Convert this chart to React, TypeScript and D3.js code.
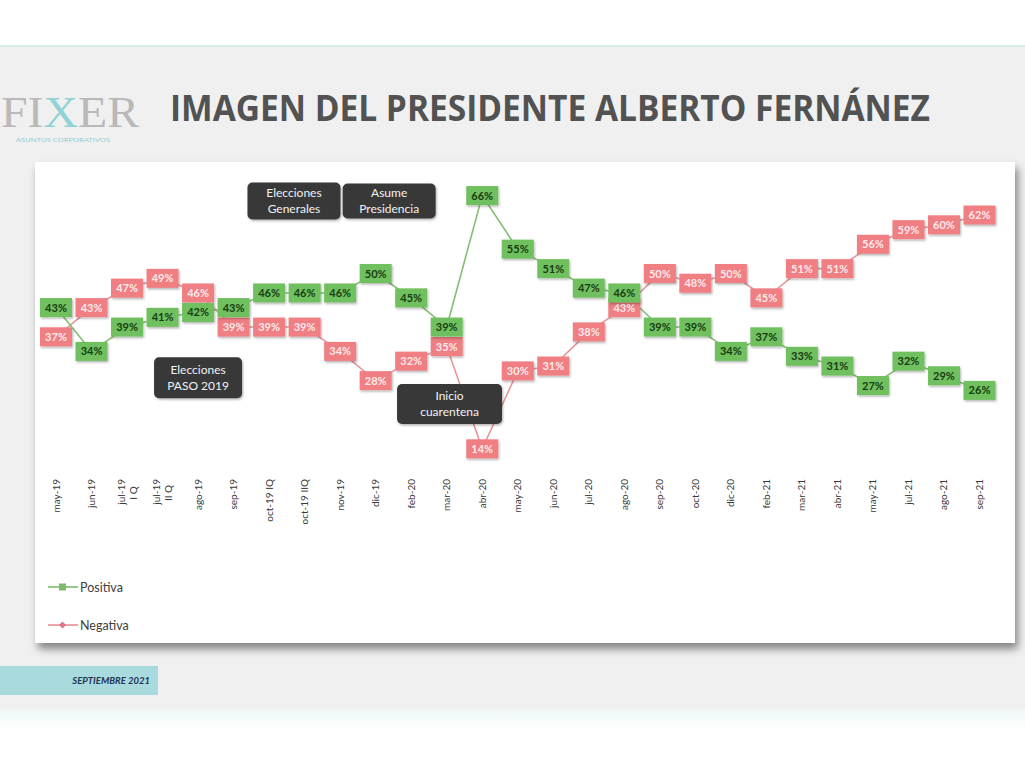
import React from "react";
import * as d3 from "d3";

const categories = [
  "may-19", "jun-19", "jul-19\nI Q", "jul-19\nII Q", "ago-19", "sep-19", "oct-19 IQ", "oct-19 IIQ",
  "nov-19", "dic-19", "feb-20", "mar-20", "abr-20", "may-20", "jun-20", "jul-20", "ago-20",
  "sep-20", "oct-20", "dic-20", "feb-21", "mar-21", "abr-21", "may-21", "jul-21", "ago-21", "sep-21",
];
const positiva = [43, 34, 39, 41, 42, 43, 46, 46, 46, 50, 45, 39, 66, 55, 51, 47, 46, 39, 39, 34, 37, 33, 31, 27, 32, 29, 26];
const negativa = [37, 43, 47, 49, 46, 39, 39, 39, 34, 28, 32, 35, 14, 30, 31, 38, 43, 50, 48, 50, 45, 51, 51, 56, 59, 60, 62];

const annotations = [
  { lines: ["Elecciones", "Generales"], from: 6, to: 7, t: 0.7, value: 64.9, w: 93, h: 37 },
  { lines: ["Asume", "Presidencia"], from: 9, to: 10, t: 0.38, value: 64.9, w: 93, h: 35 },
  { lines: ["Elecciones", "PASO 2019"], from: 4, to: 5, t: 0.0, value: 28.6, w: 88, h: 41 },
  { lines: ["Inicio", "cuarentena"], from: 11, to: 12, t: 0.08, value: 23.2, w: 105, h: 40 },
];

const legendItems = [
  { name: "Positiva", color: "#7dbb6b", marker: "square" },
  { name: "Negativa", color: "#e98f98", marker: "diamond" },
];

const W = 1025;
const H = 768;
const GREEN_LINE = "#86bd75";
const PINK_LINE = "#e9959c";
const GREEN_BOX = "#70c05e";
const PINK_BOX = "#ef7f83";
const BOX_W = 32;
const BOX_H = 19;

export default function App() {
  const x = d3.scalePoint<string>().domain(categories).range([56, 979.5]);
  const y = d3.scaleLinear().domain([0, 100]).range([517, 30]);

  const line = d3
    .line<number>()
    .x((_, i) => x(categories[i]) as number)
    .y((d) => y(d));

  const series = [
    { name: "Negativa", values: negativa, lineColor: PINK_LINE, box: PINK_BOX, text: "#fde9ea" },
    { name: "Positiva", values: positiva, lineColor: GREEN_LINE, box: GREEN_BOX, text: "#173d12" },
  ];

  const font = "Lato, 'Open Sans', sans-serif";

  return (
    <svg
      width={W}
      height={H}
      viewBox={`0 0 ${W} ${H}`}
      style={{ position: "absolute", left: 0, top: 0 }}
    >
      <defs>
        <filter id="cardShadow" x="-5%" y="-5%" width="112%" height="120%">
          <feDropShadow dx="3" dy="6" stdDeviation="4" floodColor="#000" floodOpacity="0.45" />
        </filter>
        <filter id="boxShadow" x="-20%" y="-20%" width="150%" height="160%">
          <feDropShadow dx="1" dy="1.5" stdDeviation="1" floodColor="#000" floodOpacity="0.3" />
        </filter>
        <linearGradient id="bottomFade" x1="0" y1="0" x2="0" y2="1">
          <stop offset="0" stopColor="#eef8f7" />
          <stop offset="1" stopColor="#ffffff" />
        </linearGradient>
      </defs>

      {/* page background */}
      <rect x={0} y={0} width={W} height={H} fill="#ffffff" />
      <rect x={0} y={46} width={W} height={663} fill="#f0f0f0" />
      <rect x={0} y={45} width={W} height={2} fill="#d7ebe8" />
      <rect x={0} y={709} width={W} height={22} fill="url(#bottomFade)" />

      {/* logo */}
      <text x={1} y={127} fontFamily="'Liberation Serif', 'DejaVu Serif', serif" fontSize={45} fill="#b9b9b9" textLength={138} lengthAdjust="spacingAndGlyphs">
        FI<tspan fill="#8fd3d6">X</tspan>ER
      </text>
      <text x={16} y={142} fontFamily={font} fontSize={5.5} fill="#8fcfd3" textLength={94} lengthAdjust="spacingAndGlyphs">
        ASUNTOS CORPORATIVOS
      </text>

      {/* title */}
      <text
        x={170}
        y={121}
        fontFamily="'Open Sans', sans-serif"
        fontWeight={700}
        fontSize={36}
        fill="#525252"
        textLength={760}
        lengthAdjust="spacingAndGlyphs"
      >
        IMAGEN DEL PRESIDENTE ALBERTO FERNÁNEZ
      </text>

      {/* chart card */}
      <rect x={35} y={162} width={980} height={481} fill="#ffffff" filter="url(#cardShadow)" />

      {/* lines */}
      {series.map((s) => (
        <path key={s.name + "-line"} d={line(s.values) || ""} fill="none" stroke={s.lineColor} strokeWidth={1.6} />
      ))}

      {/* annotation boxes */}
      {annotations.map((a, k) => {
        const x0 = x(categories[a.from]) as number;
        const x1 = x(categories[a.to]) as number;
        const cx = x0 + (x1 - x0) * a.t;
        const cy = y(a.value);
        return (
          <g key={"ann" + k}>
            <rect
              x={cx - a.w / 2}
              y={cy - a.h / 2}
              width={a.w}
              height={a.h}
              rx={5}
              fill="#383838"
              filter="url(#boxShadow)"
            />
            {a.lines.map((ln, j) => (
              <text
                key={j}
                x={cx}
                y={cy + (j - (a.lines.length - 1) / 2) * 16 + 4}
                textAnchor="middle"
                fontFamily={font}
                fontSize={12}
                fill="#f2f2f2"
              >
                {ln}
              </text>
            ))}
          </g>
        );
      })}

      {/* value boxes */}
      {series.map((s) => (
        <g key={s.name + "-boxes"}>
          {s.values.map((v, i) => {
            const cx = x(categories[i]) as number;
            const cy = y(v);
            return (
              <g key={i}>
                <rect
                  x={cx - BOX_W / 2}
                  y={cy - BOX_H / 2}
                  width={BOX_W}
                  height={BOX_H}
                  fill={s.box}
                  filter="url(#boxShadow)"
                />
                <text
                  x={cx}
                  y={cy + 4}
                  textAnchor="middle"
                  fontFamily={font}
                  fontWeight={700}
                  fontSize={11}
                  fill={s.text}
                >
                  {v}%
                </text>
              </g>
            );
          })}
        </g>
      ))}

      {/* x-axis labels */}
      {categories.map((c) => {
        const cx = x(c) as number;
        const parts = c.split("\n");
        return (
          <g key={c} transform={`translate(${cx},479) rotate(-90)`}>
            {parts.map((p, j) => (
              <text
                key={j}
                x={0}
                y={(j - (parts.length - 1) / 2) * 12 + 3.5}
                textAnchor={parts.length > 1 && j > 0 ? "middle" : "end"}
                dx={parts.length > 1 && j > 0 ? -14 : 0}
                fontFamily={font}
                fontSize={10}
                fill="#3a3a3a"
              >
                {p}
              </text>
            ))}
          </g>
        );
      })}

      {/* legend */}
      {legendItems.map((it, k) => {
        const ly = 587 + k * 38;
        return (
          <g key={it.name}>
            <line x1={48} x2={78} y1={ly} y2={ly} stroke={it.color} strokeWidth={1.6} />
            {it.marker === "square" ? (
              <rect x={59} y={ly - 3.5} width={7} height={7} fill={it.color} />
            ) : (
              <path d={`M62.5,${ly - 3.5} L66,${ly} L62.5,${ly + 3.5} L59,${ly} Z`} fill="#d9788a" />
            )}
            <text x={80} y={ly + 4.5} fontFamily={font} fontSize={12.5} fill="#404040">
              {it.name}
            </text>
          </g>
        );
      })}

      {/* footer date */}
      <rect x={0} y={666} width={158} height={29} fill="#a9dadd" />
      <text
        x={150}
        y={684}
        textAnchor="end"
        fontFamily={font}
        fontStyle="italic"
        fontWeight={700}
        fontSize={9.5}
        fill="#1d3552"
      >
        SEPTIEMBRE 2021
      </text>
    </svg>
  );
}
